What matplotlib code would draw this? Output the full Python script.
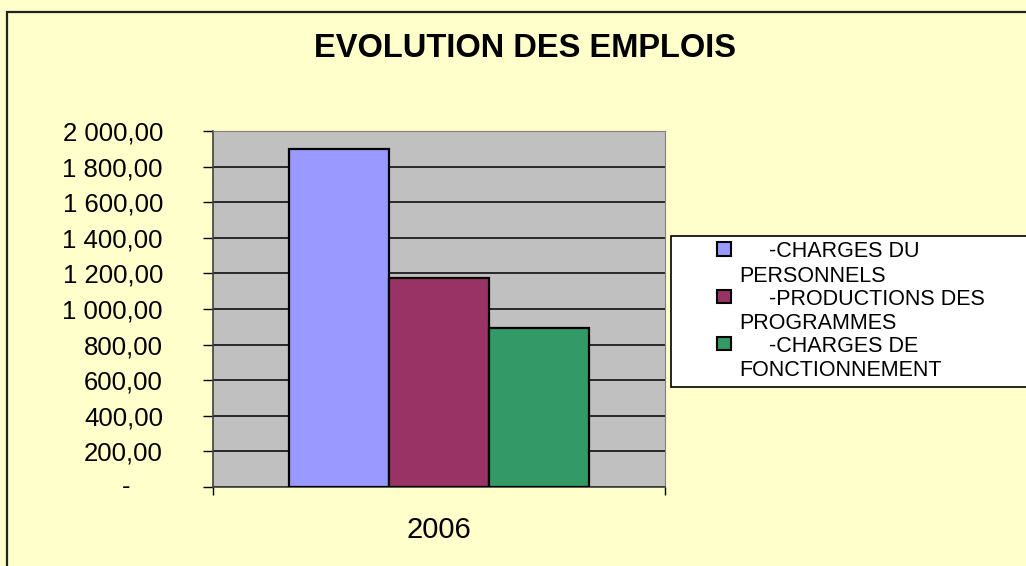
import matplotlib.pyplot as plt
from matplotlib.patches import Rectangle
from matplotlib.container import BarContainer
from matplotlib.legend_handler import HandlerPatch

# Données du graphique
annee = '2006'
postes = ['     -CHARGES DU\nPERSONNELS',
          '     -PRODUCTIONS DES\nPROGRAMMES',
          '     -CHARGES DE\nFONCTIONNEMENT']
montants = [1900, 1175, 895]
couleurs = ['#9999FF', '#993366', '#339966']
graduations = list(range(0, 2001, 200))

plt.rcParams['font.family'] = ['Liberation Sans', 'DejaVu Sans']


def format_montant(v):
    # format comptable français : "1 800,00", zéro affiché "-"
    if v == 0:
        return ''
    return f'{v:,.2f}'.replace(',', ' ').replace('.', ',')


class HandlerCarre(HandlerPatch):
    # petit carré aligné sur la première ligne du libellé
    def create_artists(self, legend, orig_handle, xdescent, ydescent,
                       width, height, fontsize, trans):
        p = Rectangle((29.2, 11.8), 10.4, 9.5, transform=trans,
                      facecolor=orig_handle.patches[0].get_facecolor(),
                      edgecolor='black', linewidth=1.5)
        return [p]


fig = plt.figure(figsize=(10.26, 5.66), dpi=100, facecolor='#FFFFCC')
W, H = 1026, 566

# cadre de la zone de graphique (bords gauche et haut visibles)
fig.add_artist(Rectangle((7 / W, -0.1), 1.2, 1 - 12 / H + 0.1, transform=fig.transFigure,
                         fill=False, edgecolor='#222222', linewidth=1.6))

ax = fig.add_axes([213 / W, 1 - 487 / H, 452 / W, 356 / H])
ax.set_facecolor('#C0C0C0')

largeur = 100 / 452
for i, (poste, val, coul) in enumerate(zip(postes, montants, couleurs)):
    ax.bar((i - 1) * largeur, val, width=largeur, color=coul,
           edgecolor='black', linewidth=1.6, label=poste, zorder=3)

ax.set_xlim(-0.5, 0.5)
ax.set_ylim(0, 2000)
ax.set_yticks(graduations)
ax.set_yticklabels([format_montant(v) for v in graduations])
ax.annotate('-', xy=(0, 0), xycoords=('axes fraction', 'data'), xytext=(-83, 0),
            textcoords='offset pixels', ha='right', va='center', fontsize=18.5)
ax.yaxis.grid(True, color='black', linewidth=1.1)
ax.set_axisbelow(True)
ax.tick_params(axis='y', direction='out', length=7, width=1, pad=29, labelsize=18.5)

ax.set_xticks([-0.5, 0.5])
ax.set_xticklabels(['', ''])
ax.tick_params(axis='x', direction='out', length=6, width=1)
ax.set_xticks([0], [annee], minor=True)
ax.tick_params(axis='x', which='minor', length=0, pad=21, labelsize=21)

for s in ['top', 'right']:
    ax.spines[s].set_color('#808080')
for s in ['left', 'bottom']:
    ax.spines[s].set_color('#404040')
    ax.spines[s].set_linewidth(1.2)

fig.text(525 / W, 1 - 48.5 / H, 'EVOLUTION DES EMPLOIS', ha='center', va='center',
         fontsize=23.5, fontweight='bold')

leg = ax.legend(loc='upper left', bbox_to_anchor=(671 / W, 1 - 387 / H, 370 / W, 151 / H),
                bbox_transform=fig.transFigure, mode='expand', fontsize=15.5,
                handler_map={BarContainer: HandlerCarre()}, handlelength=2.91,
                handletextpad=0, borderpad=0.25, borderaxespad=0, labelspacing=0.1,
                fancybox=False, framealpha=1, edgecolor='black', facecolor='white')
leg.get_frame().set_linewidth(1.2)
for t in leg.get_texts():
    t.set_linespacing(1.2)

plt.savefig('out.png', dpi=100, facecolor=fig.get_facecolor())
